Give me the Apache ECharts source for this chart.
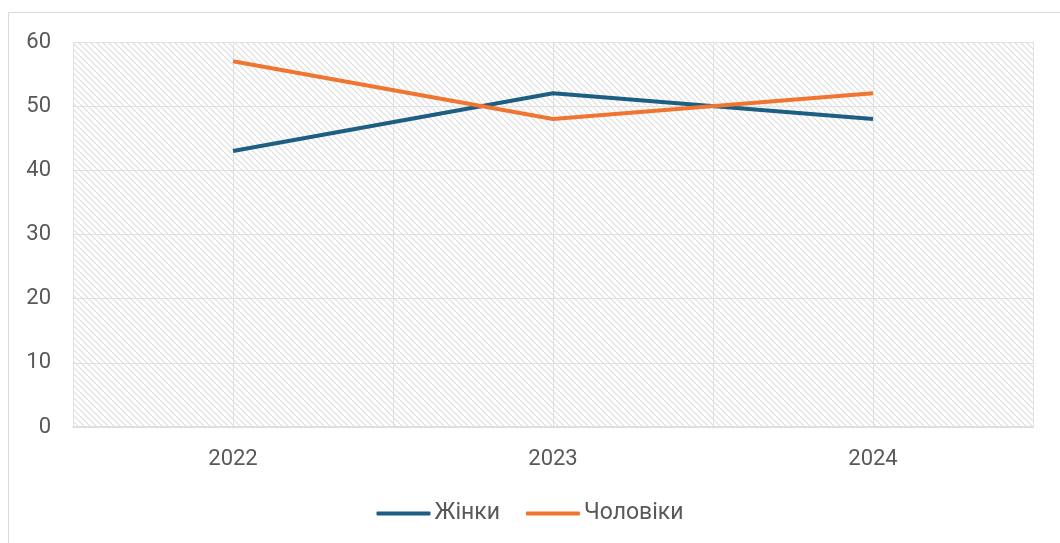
<!DOCTYPE html>
<html>
<head>
<meta charset="utf-8">
<script src="https://cdn.jsdelivr.net/npm/echarts@6/dist/echarts.min.js"></script>
<style>
  html, body { margin: 0; padding: 0; background: #fff; }
  #chart { width: 1060px; height: 543px; }
</style>
</head>
<body>
<div id="chart"></div>
<script>
const years = ['2022', '2023', '2024']
const women = [43, 52, 48]
const men = [57, 48, 52]
const seriesNames = ['Жінки', 'Чоловіки']

// hatch fill for plot area
const makeHatch = () => {
  const c = document.createElement('canvas')
  c.width = 6
  c.height = 6
  const ctx = c.getContext('2d')
  ctx.fillStyle = '#ffffff'
  ctx.fillRect(0, 0, 6, 6)
  ctx.strokeStyle = '#dedede'
  ctx.lineWidth = 1.2
  ctx.beginPath()
  ctx.moveTo(-1, -1); ctx.lineTo(7, 7)
  ctx.moveTo(-4, 2); ctx.lineTo(2, 8)
  ctx.moveTo(2, -4); ctx.lineTo(8, 2)
  ctx.stroke()
  return c
}

const chart = echarts.init(document.getElementById('chart'))
const font = 'Roboto, "Noto Sans", sans-serif'
const halfCats = ['a', 'b', 'c', 'd', 'e', 'f']

const option = {
  animation: false,
  textStyle: { fontFamily: font },
  graphic: [{
    type: 'rect',
    shape: { x: 8.5, y: 12.5, width: 1100, height: 600 },
    style: { fill: 'none', stroke: '#d9d9d9', lineWidth: 1 },
    silent: true
  }],
  grid: {
    left: 73, right: 27, top: 42, bottom: 116,
    show: true,
    borderWidth: 0,
    backgroundColor: { image: makeHatch(), repeat: 'repeat' }
  },
  legend: {
    bottom: 13,
    left: 'center',
    icon: 'roundRect',
    itemWidth: 54,
    itemHeight: 4,
    itemGap: 26,
    data: seriesNames,
    textStyle: { fontSize: 23, color: '#595959', fontFamily: font, padding: [0, 0, 0, -1] }
  },
  xAxis: [{
    type: 'category',
    data: years,
    boundaryGap: true,
    axisLine: { lineStyle: { color: '#d9d9d9', width: 1.5 } },
    axisTick: { show: false },
    axisLabel: { color: '#595959', fontSize: 22, margin: 21 },
    splitLine: { show: false }
  }, {
    type: 'category',
    data: halfCats,
    boundaryGap: true,
    position: 'bottom',
    axisLine: { show: false },
    axisTick: { show: false },
    axisLabel: { show: false },
    splitLine: { show: true, lineStyle: { color: '#e0e0e0', width: 1 } }
  }],
  yAxis: {
    type: 'value',
    min: 0,
    max: 60,
    interval: 10,
    axisLine: { show: false },
    axisTick: { show: false },
    axisLabel: { color: '#595959', fontSize: 22, margin: 22 },
    splitLine: { lineStyle: { color: '#e0e0e0', width: 1 } }
  },
  series: [{
    name: seriesNames[0],
    type: 'line',
    data: women,
    showSymbol: false,
    symbol: 'none',
    lineStyle: { color: '#1c5f82', width: 4 },
    itemStyle: { color: '#1c5f82' }
  }, {
    name: seriesNames[1],
    type: 'line',
    data: men,
    showSymbol: false,
    symbol: 'none',
    lineStyle: { color: '#ee7631', width: 4 },
    itemStyle: { color: '#ee7631' }
  }]
}
chart.setOption(option)
</script>
</body>
</html>
